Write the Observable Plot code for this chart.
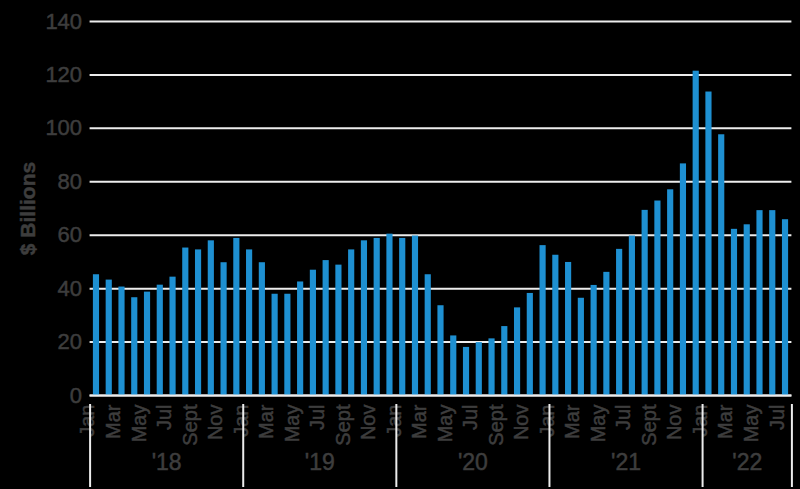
<!DOCTYPE html>
<html>
<head>
<meta charset="utf-8">
<script src="https://cdn.jsdelivr.net/npm/d3@7"></script>
<script src="https://cdn.jsdelivr.net/npm/@observablehq/plot@0.6"></script>
<style>
  html, body { margin: 0; padding: 0; background: #000; }
  #chart { width: 800px; height: 489px; }
  #chart svg text { stroke: #3d3d3d; stroke-width: 0.5px; }
</style>
</head>
<body>
<div id="chart"></div>
<script>
// ---- data ----
const yearLabels = ["'18", "'19", "'20", "'21", "'22"];
const monthNames = ["Jan", "Feb", "Mar", "Apr", "May", "Jun", "Jul", "Aug", "Sep", "Oct", "Nov", "Dec"];
const monthTickLabels = {Jan: "Jan", Mar: "Mar", May: "May", Jul: "Jul", Sep: "Sept", Nov: "Nov"};
const values2018 = [45.2, 43.2, 40.6, 36.6, 38.7, 41.3, 44.3, 55.2, 54.5, 57.9, 49.7, 58.8];
const values2019 = [54.5, 49.7, 37.9, 37.9, 42.5, 46.9, 50.5, 48.8, 54.5, 57.9, 58.8, 60.4];
const values2020 = [58.8, 59.7, 45.2, 33.6, 22.3, 18.0, 19.8, 21.2, 25.8, 32.8, 38.2, 56.1];
const values2021 = [52.5, 49.8, 36.4, 41.2, 46.1, 54.7, 59.7, 69.3, 72.8, 77.0, 86.7, 121.4];
const values2022 = [113.6, 97.6, 62.2, 63.9, 69.2, 69.2, 65.8];
const yTicks = [0, 20, 40, 60, 80, 100, 120, 140];

// ---- build table ----
const seriesByYear = [values2018, values2019, values2020, values2021, values2022];
const bars = [];
const yearSpans = [];
let idx = 0;
seriesByYear.forEach((vals, yi) => {
  const start = idx;
  vals.forEach((v, m) => {
    bars.push({i: idx, month: monthNames[m], year: yearLabels[yi], value: v});
    idx++;
  });
  yearSpans.push({label: yearLabels[yi], start, end: idx});
});
const total = idx;
const monthTicks = bars.filter(d => monthTickLabels[d.month]);
const separators = yearSpans.map(d => d.start).concat([total]);

const gray = "#3d3d3d";
const blue = "#1e90d2";

const chart = Plot.plot({
  width: 800,
  height: 489,
  marginTop: 21,
  marginBottom: 94,
  marginLeft: 89.6,
  marginRight: 8.6,
  style: {background: "#000", fontFamily: "'Liberation Sans', Arial, sans-serif"},
  x: {domain: [0, total], axis: null},
  y: {domain: [0, 140], axis: null},
  marks: [
    Plot.gridY(yTicks, {stroke: "#ececec", strokeOpacity: 1, strokeWidth: 2}),
    Plot.axisY(yTicks, {tickSize: 0, tickPadding: 8, fontSize: 22, color: gray, label: null}),
    Plot.rectY(bars, {x1: "i", x2: d => d.i + 1, y: "value", fill: blue, insetLeft: 3.3, insetRight: 3.3}),
    Plot.ruleY([0], {stroke: "#ececec", strokeWidth: 2}),
    Plot.text(monthTicks, {
      x: d => d.i + 0.5, frameAnchor: "bottom", dy: 9, dx: -2,
      text: d => monthTickLabels[d.month], rotate: -90, textAnchor: "end",
      fontSize: 20, fill: gray
    }),
    Plot.ruleX(separators, {stroke: "#ececec", strokeWidth: 2, insetTop: 383, insetBottom: -92}),
    Plot.text(yearSpans, {
      x: d => (d.start + d.end) / 2, frameAnchor: "bottom", dy: 74,
      text: "label", fontSize: 23, fill: gray
    }),
    Plot.text(["$ Billions"], {
      frameAnchor: "left", dx: -62, rotate: -90, textAnchor: "middle",
      fontSize: 21, fontWeight: "bold", fill: gray
    })
  ]
});
document.getElementById("chart").appendChild(chart);
</script>
</body>
</html>
